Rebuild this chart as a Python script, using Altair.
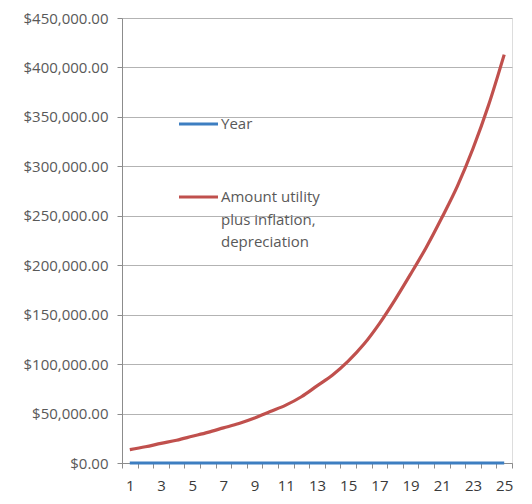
import altair as alt
import pandas as pd

years = list(range(1, 26))
amount = [13500, 16400, 19800, 23000, 27000, 31000, 35500, 40000, 45500, 52000,
          58500, 67000, 78000, 89000, 103000, 120000, 141000, 165000, 191000, 218000,
          248000, 280000, 318000, 362000, 413000]
series_names = ["Year", "Amount utility plus inflation, depreciation"]
legend_labels = ["Year", "Amount utility\nplus inflation,\ndepreciation"]
colors = ["#3d7ec1", "#c0504d"]
y_ticks = [0, 50000, 100000, 150000, 200000, 250000, 300000, 350000, 400000, 450000]

FONT = "Open Sans"
FS = 15
TOP = 10
W, H = 390, 445

df = pd.DataFrame({
    "year": years + years,
    "value": years + amount,
    "series": [series_names[0]] * len(years) + [series_names[1]] * len(years),
})

x_enc = alt.X(
    "year:O",
    scale=alt.Scale(type="band", paddingInner=0, paddingOuter=0),
    axis=alt.Axis(
        title=None, labelAngle=0, tickBand="extent",
        labelExpr="datum.value % 2 == 1 ? datum.label : ''",
        labelFont=FONT, labelFontSize=FS, labelColor="#3a3a3a",
        labelPadding=10, labelBaseline="top",
        tickColor="#8c8c8c", tickSize=5, domainColor="#8c8c8c", grid=False,
    ),
)
y_enc = alt.Y(
    "value:Q",
    scale=alt.Scale(domain=[0, 450000], nice=False),
    axis=alt.Axis(
        title=None, values=y_ticks, format="$,.2f",
        labelFont=FONT, labelFontSize=FS, labelColor="#595959", labelPadding=9,
        tickColor="#8c8c8c", tickSize=5, domainColor="#8c8c8c",
        grid=True, gridColor="#b3b3b3", gridWidth=1.2,
    ),
)

lines = alt.Chart(df).mark_line(strokeWidth=3.2, interpolate="monotone").encode(
    x=x_enc,
    y=y_enc,
    color=alt.Color("series:N", scale=alt.Scale(domain=series_names, range=colors), legend=None),
    order=alt.Order("year:O"),
)

legend_y = [124 - 8 - TOP, 197 - 8 - TOP]
legend_layers = []
for i, name in enumerate(series_names):
    ldf = pd.DataFrame({"series": [name], "label": [legend_labels[i]]})
    rule = alt.Chart(ldf).mark_rule(strokeWidth=3, color=colors[i]).encode(
        x=alt.value(57), x2=alt.value(96), y=alt.value(legend_y[i])
    )
    txt = alt.Chart(ldf).mark_text(
        align="left", baseline="top", lineBreak="\n", font=FONT, fontSize=FS,
        color="#595959", lineHeight=22.5, dy=-7,
    ).encode(x=alt.value(99), y=alt.value(legend_y[i]), text="label:N")
    legend_layers += [rule, txt]

chart = alt.layer(lines, *legend_layers).properties(
    width=W, height=H,
    autosize=alt.AutoSizeParams(type="none"),
    padding={"left": 114, "top": TOP, "right": 12, "bottom": 33},
).configure_view(stroke=None).configure(background="white")

chart.save("out.html", embed_options={"renderer": "svg", "actions": False})
